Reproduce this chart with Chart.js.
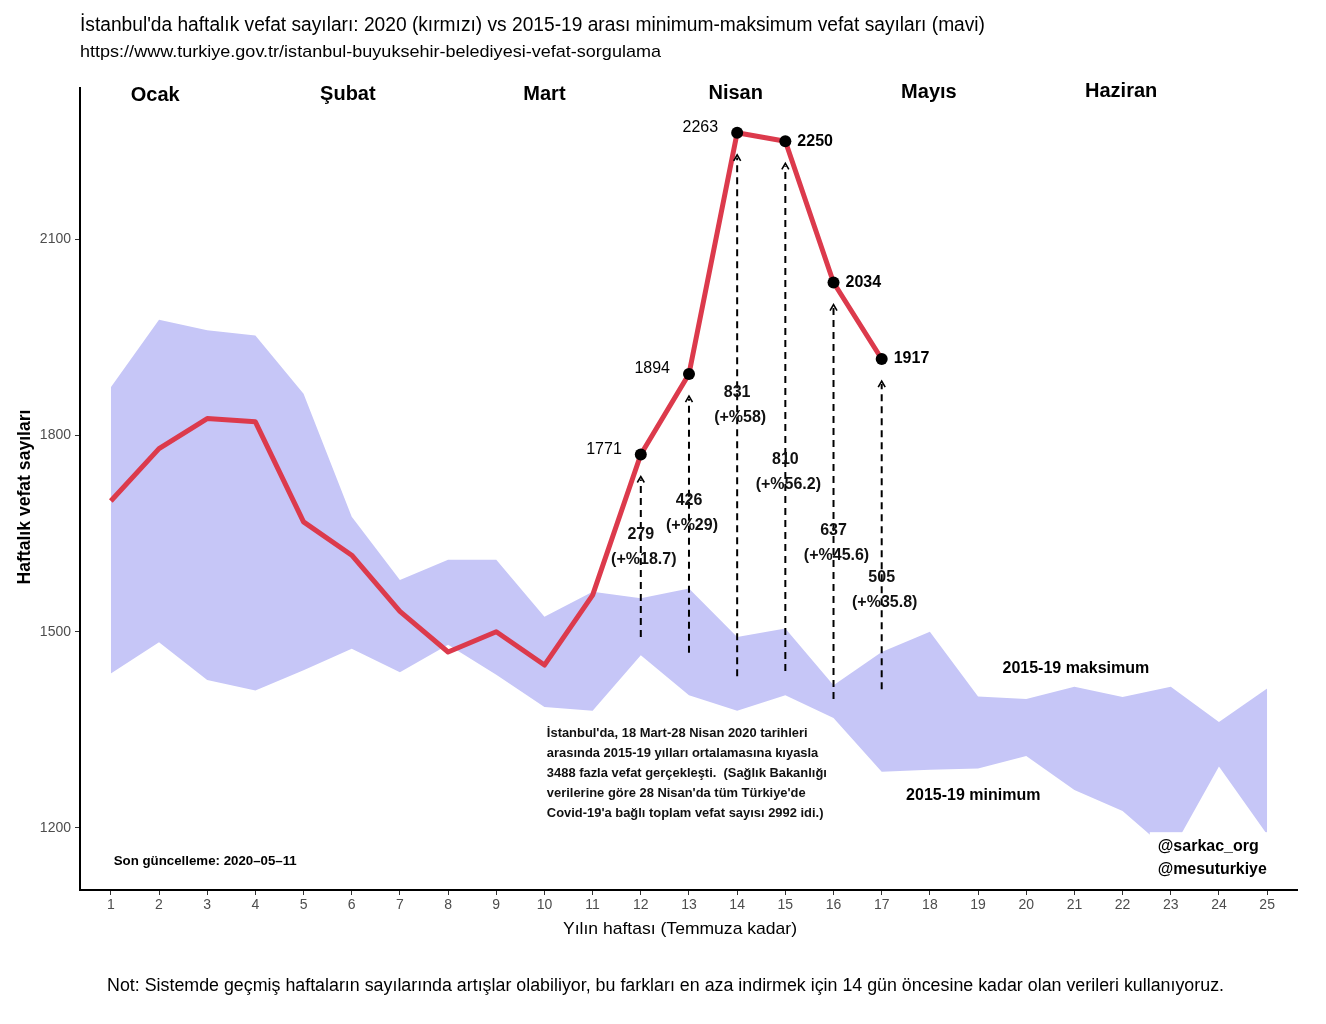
<!DOCTYPE html>
<html>
<head>
<meta charset="utf-8">
<script src="https://cdn.jsdelivr.net/npm/chart.js@4.4.1/dist/chart.umd.min.js"></script>
<style>
  body { margin: 0; background: #fff; }
  canvas { display: block; }
</style>
</head>
<body>
<canvas id="chart" width="1326" height="1024"></canvas>
<script>
// weeks of the year
const weeks = [1,2,3,4,5,6,7,8,9,10,11,12,13,14,15,16,17,18,19,20,21,22,23,24,25];
// 2020 weekly deaths (up to week 17)
const deaths2020 = [1700,1780,1826,1821,1668,1617,1531,1469,1500,1449,1556,1771,1894,2263,2250,2034,1917];
// 2015-19 min / max band
const bandMax = [1874,1977,1961,1953,1864,1676,1579,1610,1610,1523,1561,1551,1566,1492,1505,1418,1469,1500,1401,1397,1416,1400,1416,1362,1413];
const bandMin = [1436,1484,1426,1410,1441,1474,1438,1480,1434,1385,1379,1464,1403,1379,1403,1368,1286,1289,1291,1310,1258,1226,1162,1294,1190];

// excess deaths vs 2015-19 mean
const excessWeeks = [12,13,14,15,16,17];
const excessDeaths = [279,426,831,810,637,505];
const excessPct = ['18.7','29','58','56.2','45.6','35.8'];
const excessLabelY = [1630,1681,1847,1744,1635,1563];
const labelLeft = [true,true,true,false,false,false];

// month labels
const months = ['Ocak','Şubat','Mart','Nisan','Mayıs','Haziran'];
const monthWeek = [1.92,5.92,10,13.97,17.98,21.97];
const monthY = [2320,2321,2321,2323,2325,2326];

const xTicks = weeks;
const yTicks = [1200,1500,1800,2100];

const RED = '#dc3a4c';
const BAND = '#c6c6f7';
const FONT = '"Liberation Sans", Arial, sans-serif';

const ctxEl = document.getElementById('chart');

function drawText(ctx, text, x, y, font, opts = {}) {
    ctx.save();
    ctx.font = font;
    ctx.fillStyle = opts.color || '#000';
    ctx.textBaseline = 'middle';
    let w = ctx.measureText(text).width;
    let sx = opts.width ? opts.width / w : 1;
    let left = x;
    if (opts.align == 'center') left = x - w * sx / 2;
    else if (opts.align == 'right') left = x - w * sx;
    ctx.translate(left, y);
    ctx.scale(sx, 1);
    ctx.textAlign = 'left';
    ctx.fillText(text, 0, 0);
    ctx.restore();
}

const overlay = {
    id: 'overlay',
    afterDatasetsDraw(chart) {
        const ctx = chart.ctx;
        const x = chart.scales.x, y = chart.scales.y;

        // dashed arrows from mean to 2020 value
        excessWeeks.forEach((w, i) => {
            let val = deaths2020[w - 1];
            let px = x.getPixelForValue(w);
            let base = y.getPixelForValue(val - excessDeaths[i]);
            let tip = y.getPixelForValue(val) + 22;
            ctx.save();
            ctx.strokeStyle = '#000';
            ctx.lineWidth = 2;
            ctx.setLineDash([7, 5]);
            ctx.beginPath();
            ctx.moveTo(px, base);
            ctx.lineTo(px, tip + 3);
            ctx.stroke();
            ctx.setLineDash([]);
            ctx.lineWidth = 1.6;
            ctx.beginPath();
            ctx.moveTo(px - 3.5, tip + 6);
            ctx.lineTo(px, tip);
            ctx.lineTo(px + 3.5, tip + 6);
            ctx.stroke();
            ctx.restore();

            // excess labels
            let ly = y.getPixelForValue(excessLabelY[i]);
            drawText(ctx, String(excessDeaths[i]), px, ly - 12.5, 'bold 16px ' + FONT, { align: 'center', color: '#111' });
            drawText(ctx, '(+%' + excessPct[i] + ')', px + 3, ly + 12.5, 'bold 16px ' + FONT, { align: 'center', color: '#111' });

            // value labels
            let py = y.getPixelForValue(val);
            if (labelLeft[i])
                drawText(ctx, String(val), px - 19, py - 5, '16px ' + FONT, { align: 'right' });
            else
                drawText(ctx, String(val), px + 12, py, 'bold 16px ' + FONT);
        });

        // months
        months.forEach((m, i) => {
            drawText(ctx, m, x.getPixelForValue(monthWeek[i]), y.getPixelForValue(monthY[i]), 'bold 20px ' + FONT, { align: 'center' });
        });

        drawText(ctx, '2015-19 maksimum', x.getPixelForValue(21.03), y.getPixelForValue(1444), 'bold 16px ' + FONT, { align: 'center' });
        drawText(ctx, '2015-19 minimum', x.getPixelForValue(18.9), y.getPixelForValue(1249), 'bold 16px ' + FONT, { align: 'center' });

        drawText(ctx, 'Son güncelleme: 2020–05–11', x.getPixelForValue(1.06), y.getPixelForValue(1148), 'bold 12px ' + FONT, { width: 183 });

        // note block
        const note = [
            "İstanbul'da, 18 Mart-28 Nisan 2020 tarihleri",
            "arasında 2015-19 yılları ortalamasına kıyasla",
            "3488 fazla vefat gerçekleşti.  (Sağlık Bakanlığı",
            "verilerine göre 28 Nisan'da tüm Türkiye'de",
            "Covid-19'a bağlı toplam vefat sayısı 2992 idi.)"
        ];
        ctx.save();
        ctx.font = 'bold 13px ' + FONT;
        let widest = Math.max(...note.map(t => ctx.measureText(t).width));
        ctx.restore();
        let nx = x.getPixelForValue(10.05), ny = y.getPixelForValue(1345);
        note.forEach((t, i) => {
            ctx.save();
            ctx.font = 'bold 13px ' + FONT;
            let w = ctx.measureText(t).width * 280 / widest;
            ctx.restore();
            drawText(ctx, t, nx, ny + i * 20, 'bold 13px ' + FONT, { width: w, color: '#111' });
        });

        // handles on a white label
        let hx = x.getPixelForValue(22.73), hy = y.getPixelForValue(1172);
        ctx.save();
        ctx.fillStyle = '#fff';
        ctx.fillRect(hx - 8, hy - 14, 124, 52);
        ctx.restore();
        drawText(ctx, '@sarkac_org', hx, hy, 'bold 16px ' + FONT, { width: 101 });
        drawText(ctx, '@mesuturkiye', hx, hy + 23, 'bold 16px ' + FONT, { width: 109 });
    },
    afterDraw(chart) {
        const ctx = chart.ctx;
        drawText(ctx, "İstanbul'da haftalık vefat sayıları: 2020 (kırmızı) vs 2015-19 arası minimum-maksimum vefat sayıları (mavi)", 80, 25, '20px ' + FONT, { width: 905 });
        drawText(ctx, 'https://www.turkiye.gov.tr/istanbul-buyuksehir-belediyesi-vefat-sorgulama', 80, 52, '17px ' + FONT, { width: 581 });
        drawText(ctx, 'Yılın haftası (Temmuza kadar)', 680, 929, '17px ' + FONT, { align: 'center', width: 234 });
        drawText(ctx, 'Not: Sistemde geçmiş haftaların sayılarında artışlar olabiliyor, bu farkları en aza indirmek için 14 gün öncesine kadar olan verileri kullanıyoruz.', 107, 986, '18px ' + FONT, { width: 1117 });
        // y title, rotated
        ctx.save();
        ctx.font = 'bold 18px ' + FONT;
        let w = ctx.measureText('Haftalık vefat sayıları').width;
        ctx.translate(25, 497);
        ctx.rotate(-Math.PI / 2);
        ctx.scale(175 / w, 1);
        ctx.textAlign = 'center';
        ctx.textBaseline = 'middle';
        ctx.fillStyle = '#000';
        ctx.fillText('Haftalık vefat sayıları', 0, 0);
        ctx.restore();
    }
};

const pointsOf = (xs, ys) => ys.map((v, i) => ({ x: xs[i], y: v }));

new Chart(ctxEl, {
    type: 'line',
    data: {
        datasets: [{
            label: '2020',
            data: pointsOf(weeks, deaths2020),
            borderColor: RED,
            borderWidth: 5,
            borderJoinStyle: 'round',
            tension: 0,
            pointRadius: deaths2020.map((v, i) => i >= 11 ? 6 : 0),
            pointBackgroundColor: '#000',
            pointBorderWidth: 0,
            fill: false,
            order: 0
        }, {
            label: '2015-19 minimum',
            data: pointsOf(weeks, bandMin),
            borderWidth: 0,
            pointRadius: 0,
            fill: false,
            order: 1
        }, {
            label: '2015-19 maksimum',
            data: pointsOf(weeks, bandMax),
            borderWidth: 0,
            pointRadius: 0,
            backgroundColor: BAND,
            fill: 1,
            order: 2
        }]
    },
    options: {
        responsive: false,
        animation: false,
        devicePixelRatio: 1,
        layout: { padding: { left: 0, top: 88, right: 29, bottom: 0 } },
        plugins: {
            legend: { display: false },
            tooltip: { enabled: false },
            title: { display: false }
        },
        scales: {
            x: {
                type: 'linear',
                min: 0.36,
                max: 25.62,
                afterBuildTicks: s => { s.ticks = xTicks.map(v => ({ value: v })); },
                afterFit: s => { s.height = 134; },
                grid: { drawOnChartArea: false, drawTicks: true, tickLength: 5, color: '#333', lineWidth: 1 },
                border: { display: true, color: '#000', width: 2 },
                ticks: { color: '#4d4d4d', padding: 2, maxRotation: 0, autoSkip: false, font: { family: FONT, size: 14 } }
            },
            y: {
                min: 1105,
                max: 2331.5,
                afterBuildTicks: s => { s.ticks = yTicks.map(v => ({ value: v })); },
                afterFit: s => { s.width = 80; },
                grid: { drawOnChartArea: false, drawTicks: true, tickLength: 5, color: '#333', lineWidth: 1 },
                border: { display: true, color: '#000', width: 2 },
                ticks: { color: '#4d4d4d', padding: 4, callback: v => String(v), font: { family: FONT, size: 14 } }
            }
        }
    },
    plugins: [overlay]
});
</script>
</body>
</html>
